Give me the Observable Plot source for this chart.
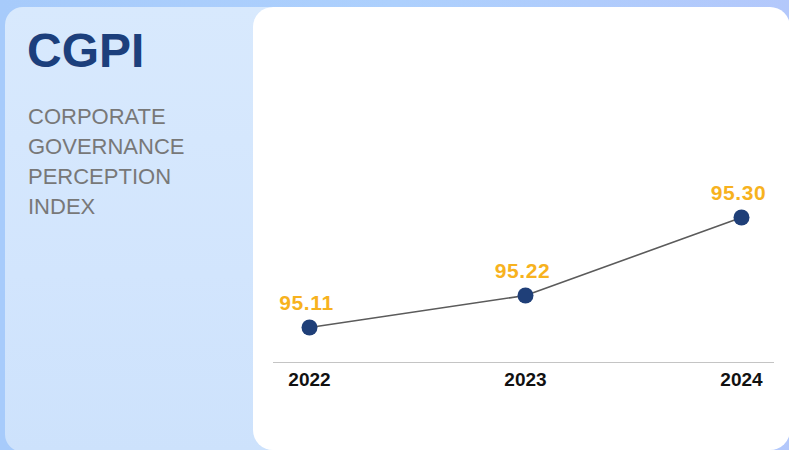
<!DOCTYPE html>
<html>
<head>
<meta charset="utf-8">
<script src="https://cdn.jsdelivr.net/npm/d3@7"></script>
<script src="https://cdn.jsdelivr.net/npm/@observablehq/plot@0.6"></script>
<style>
  html, body { margin: 0; padding: 0; }
  body {
    width: 789px; height: 450px; overflow: hidden; position: relative;
    background: linear-gradient(90deg, #a7cbfb 0%, #add0fd 50%, #b3c8fb 100%);
    font-family: "Liberation Sans", Arial, Helvetica, sans-serif;
  }
  #leftcard {
    position: absolute; left: 5px; top: 7px; width: 280px; height: 445px;
    border-radius: 18px;
    background: linear-gradient(180deg, #d8e9fd 0%, #d2e5fd 60%, #cde2fc 100%);
  }
  #title {
    position: absolute; left: 27px; top: 27px;
    font-size: 48px; line-height: 48px; font-weight: bold; color: #1c3f7c;
  }
  #subtitle {
    position: absolute; left: 28px; top: 102px;
    font-size: 22px; line-height: 30px; color: #787878; font-weight: 300;
  }
  #card {
    position: absolute; left: 253px; top: 7px; width: 537px; height: 443px;
    border-radius: 20px; background: #ffffff; overflow: hidden;
  }
  #chart svg { display: block; }
  #chart g[aria-label="x-axis tick label"] text {
    font-weight: bold; font-size: 19px; fill: #111111;
  }
  #chart g[aria-label="text"] text { letter-spacing: 0.6px; }
</style>
</head>
<body>
<div id="leftcard"></div>
<div id="title">CGPI</div>
<div id="subtitle">CORPORATE<br>GOVERNANCE<br>PERCEPTION<br>INDEX</div>
<div id="card"><div id="chart"></div></div>
<script>
const years = ["2022", "2023", "2024"];
const values = [95.11, 95.22, 95.30];
const valueLabels = ["95.11", "95.22", "95.30"];

const data = years.map((year, i) => ({year, value: values[i], label: valueLabels[i]}));

const chart = Plot.plot({
  width: 537,
  height: 443,
  marginLeft: 20,
  marginRight: 17,
  marginTop: 0,
  marginBottom: 88,
  style: {background: "transparent", fontFamily: "'Liberation Sans', Arial, Helvetica, sans-serif", overflow: "visible"},
  x: {type: "point", domain: years, range: [55, 488], padding: 0, axis: null},
  y: {type: "linear", domain: values, range: [320, 288, 210], axis: null},
  marks: [
    Plot.frame({anchor: "bottom", stroke: "#c4c4c4", strokeWidth: 1}),
    Plot.axisX({tickSize: 0, tickPadding: 10, fontSize: 19, fontWeight: "bold", label: null, color: "#111"}),
    Plot.line(data, {x: "year", y: "value", stroke: "#5b5b5b", strokeWidth: 1.6}),
    Plot.dot(data, {x: "year", y: "value", r: 8, fill: "#1f3f78", stroke: "none"}),
    Plot.text(data, {x: "year", y: "value", text: "label", dy: -24, dx: -3, fontSize: 21, fontWeight: "bold", fill: "#f7b21e"})
  ]
});
document.getElementById("chart").appendChild(chart);
</script>
</body>
</html>
